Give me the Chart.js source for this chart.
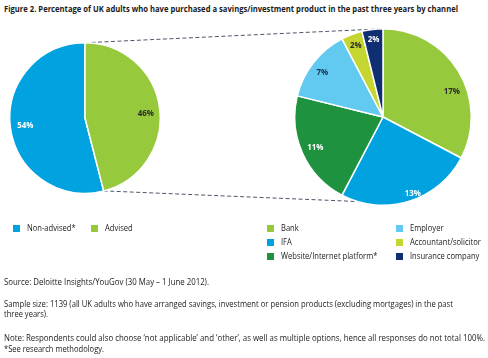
<!DOCTYPE html>
<html><head><meta charset="utf-8">
<script src="https://cdn.jsdelivr.net/npm/chart.js@4/dist/chart.umd.min.js"></script>
<style>
html,body{margin:0;padding:0;background:#fff;}
#wrap{position:relative;width:488px;height:358px;overflow:hidden;font-family:"Open Sans",sans-serif;color:#222;}
.t{position:absolute;white-space:nowrap;left:4px;}
.fit{display:inline-block;transform-origin:left center;white-space:nowrap;}
#title{top:3px;font-weight:bold;font-size:9.6px;line-height:12px;color:#1a1a1a;}
.foot{font-size:9.4px;line-height:10.5px;color:#222;}
canvas{position:absolute;}
.leg{position:absolute;font-size:9.6px;line-height:12px;white-space:nowrap;color:#222;padding-left:14px;}
.leg i{position:absolute;left:0;width:7px;height:7px;top:2.5px;}
</style></head>
<body><div id="wrap">
<div id="title" class="t"><span class="fit" data-w="454">Figure 2. Percentage of UK adults who have purchased a savings/investment product in the past three years by channel</span></div>
<canvas id="lines" width="488" height="358" style="left:0;top:0;z-index:0"></canvas>
<canvas id="c1" width="152" height="152" style="left:9px;top:42px;z-index:1"></canvas>
<canvas id="c2" width="178" height="178" style="left:294px;top:28px;z-index:1"></canvas>
<div id="legends"></div>
<div class="t foot" style="top:276.5px"><span class="fit" data-w="205">Source: Deloitte Insights/YouGov (30 May – 1 June 2012).</span></div>
<div class="t foot" style="top:298.5px"><span class="fit" data-w="449">Sample size: 1139 (all UK adults who have arranged savings, investment or pension products (excluding mortgages) in the past</span></div>
<div class="t foot" style="top:309px"><span class="fit" data-w="44">three years).</span></div>
<div class="t foot" style="top:332.5px"><span class="fit" data-w="481">Note: Respondents could also choose ‘not applicable’ and ‘other’, as well as multiple options, hence all responses do not total 100%.</span></div>
<div class="t foot" style="top:343.5px"><span class="fit" data-w="100">*See research methodology.</span></div>
</div>
<script>
// ---- data ----
const channelTypes = ['Non-advised*', 'Advised'];
const channelTypeValues = [54, 46];
const adviceChannels = ['Bank', 'IFA', 'Website/Internet platform*', 'Employer', 'Accountant/solicitor', 'Insurance company'];
const adviceChannelValues = [17, 13, 11, 7, 2, 2];

// ---- styles ----
const colors1 = ['#00A3E0', '#97C93D'];
const labelColors1 = ['#ffffff', '#2b2b2b'];
const colors2 = ['#97C93D', '#00A3E0', '#1F9240', '#62CAF1', '#C5D630', '#102F72'];
const labelColors2 = ['#2b2b2b', '#ffffff', '#ffffff', '#1d2f4f', '#2b2b2b', '#ffffff'];

const sliceLabels = {
  id: 'sliceLabels',
  afterDatasetsDraw(chart, args, opts) {
    const ctx = chart.ctx;
    const meta = chart.getDatasetMeta(0);
    const vals = chart.data.datasets[0].data;
    ctx.save();
    ctx.font = 'bold 9px "Open Sans",sans-serif';
    ctx.textAlign = 'center';
    ctx.textBaseline = 'middle';
    meta.data.forEach((arc, i) => {
      const a = (arc.startAngle + arc.endAngle) / 2 + (opts.shift[i] || 0) * Math.PI / 180;
      const r = arc.outerRadius * opts.frac[i];
      const x = arc.x + r * Math.cos(a), y = arc.y + r * Math.sin(a);
      ctx.save();
      ctx.translate(x, y);
      ctx.scale(0.88, 1);
      ctx.fillStyle = opts.colors[i];
      ctx.fillText(vals[i] + '%', 0, 0);
      ctx.restore();
    });
    ctx.restore();
  }
};

const common = (frac, shift, colors) => ({
  responsive: false,
  animation: false,
  layout: { padding: 0 },
  plugins: { legend: { display: false }, tooltip: { enabled: false },
    sliceLabels: { frac, shift, colors } }
});

const sum1 = channelTypeValues.reduce((a, b) => a + b, 0);
const chart1 = new Chart(document.getElementById('c1'), {
  type: 'pie',
  data: { labels: channelTypes, datasets: [{ data: channelTypeValues, backgroundColor: colors1, borderColor: '#fff', borderWidth: 1.5 }] },
  options: Object.assign(common([0.8, 0.81], [0, 3], labelColors1), { rotation: channelTypeValues[1] / sum1 * 360 }),
  plugins: [sliceLabels]
});
const chart2 = new Chart(document.getElementById('c2'), {
  type: 'pie',
  data: { labels: adviceChannels, datasets: [{ data: adviceChannelValues, backgroundColor: colors2, borderColor: '#fff', borderWidth: 1.5 }] },
  options: common([0.83, 0.93, 0.84, 0.85, 0.87, 0.88], [11, -4, 0, -2, 0, 0], labelColors2),
  plugins: [sliceLabels]
});

// ---- dashed connector lines ----
(function () {
  const ctx = document.getElementById('lines').getContext('2d');
  const c1 = document.getElementById('c1'), c2 = document.getElementById('c2');
  const adv = chart1.getDatasetMeta(0).data[1];
  const first = chart2.getDatasetMeta(0).data[0];
  const o1 = { x: c1.offsetLeft, y: c1.offsetTop }, o2 = { x: c2.offsetLeft, y: c2.offsetTop };
  const pt = (arc, o, a) => [o.x + arc.x + arc.outerRadius * Math.cos(a), o.y + arc.y + arc.outerRadius * Math.sin(a)];
  const p1 = pt(adv, o1, adv.startAngle), p2 = pt(adv, o1, adv.endAngle);
  const q1 = pt(first, o2, -Math.PI / 2), q2 = pt(first, o2, Math.PI / 2);
  ctx.strokeStyle = '#4d5566';
  ctx.lineWidth = 1;
  ctx.setLineDash([4, 2.5]);
  ctx.beginPath(); ctx.moveTo(p1[0], p1[1]); ctx.lineTo(q1[0], q1[1]); ctx.stroke();
  ctx.beginPath(); ctx.moveTo(p2[0], p2[1]); ctx.lineTo(q2[0] - 8, q2[1] - 3); ctx.stroke();
})();

// ---- legends ----
(function () {
  const host = document.getElementById('legends');
  const add = (text, color, x, y) => {
    const d = document.createElement('div');
    d.className = 'leg';
    d.style.left = x + 'px'; d.style.top = y + 'px';
    d.innerHTML = '<i style="background:' + color + '"></i><span class="fit lg">' + text + '</span>';
    host.appendChild(d);
  };
  add(channelTypes[0], colors1[0], 13, 222);
  add(channelTypes[1], colors1[1], 91, 222);
  adviceChannels.forEach((t, i) => {
    const col = Math.floor(i / 3), row = i % 3;
    add(t, colors2[i], col ? 396 : 267, 222 + row * 14);
  });
})();

// ---- fit text widths (narrow face substitute) ----
document.querySelectorAll('.fit[data-w]').forEach(el => {
  const w = el.getBoundingClientRect().width;
  el.style.transform = 'scaleX(' + (parseFloat(el.dataset.w) / w) + ')';
});
document.querySelectorAll('.fit.lg').forEach(el => { el.style.transform = 'scaleX(0.79)'; });
</script>
</body></html>
